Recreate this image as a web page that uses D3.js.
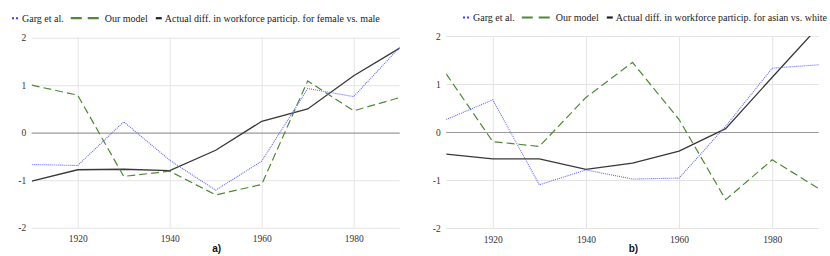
<!DOCTYPE html>
<html>
<head>
<meta charset="utf-8">
<script src="https://cdn.jsdelivr.net/npm/d3@7"></script>
<style>
  body { margin: 0; background: #fff; }
  svg { display: block; }
</style>
</head>
<body>
<svg id="chart" width="830" height="256"></svg>
<script>
const years = [1910, 1920, 1930, 1940, 1950, 1960, 1970, 1980, 1990];
const xTicks = [1920, 1940, 1960, 1980];
const yTicks = [-2, -1, 0, 1, 2];

// panel a) female vs. male
const gargA = [-0.67, -0.69, 0.23, -0.58, -1.21, -0.6, 0.93, 0.76, 1.8];
const modelA = [1.0, 0.79, -0.92, -0.81, -1.31, -1.09, 1.09, 0.46, 0.74];
const actualA = [-1.02, -0.78, -0.77, -0.8, -0.37, 0.24, 0.5, 1.2, 1.78];

// panel b) asian vs. white
const gargB = [0.26, 0.67, -1.1, -0.79, -0.98, -0.96, 0.12, 1.33, 1.4];
const modelB = [1.21, -0.2, -0.3, 0.72, 1.45, 0.26, -1.41, -0.58, -1.18];
const actualB = [-0.46, -0.56, -0.56, -0.78, -0.65, -0.4, 0.07, 1.14, 2.2];

const SERIF = '"Liberation Serif", "Times New Roman", serif';
const svg = d3.select("#chart");

function drawPanel(id, box, garg, model, actual, actualLabel, tag, legendX) {
  const x = d3.scaleLinear().domain([1910, 1990]).range([box.left, box.right]);
  const y = d3.scaleLinear().domain([-2, 2]).range([box.bottom, box.top]);
  const g = svg.append("g");

  // clip so lines past the top get cut like the original
  svg.append("clipPath").attr("id", "clip" + id)
    .append("rect")
    .attr("x", box.left).attr("y", box.top)
    .attr("width", box.right - box.left).attr("height", box.bottom - box.top);

  // vertical grid + year labels
  const xAxis = g.append("g")
    .attr("transform", `translate(0,${box.bottom})`)
    .call(d3.axisBottom(x).tickValues(xTicks).tickFormat(String)
      .tickSize(-(box.bottom - box.top)).tickPadding(8));
  xAxis.select(".domain").remove();
  xAxis.selectAll("line").attr("stroke", "#e4e4e4");
  xAxis.selectAll("text").style("font-family", SERIF).style("font-size", "9.5px").attr("fill", "#333");

  // horizontal grid + value labels
  const yAxis = g.append("g")
    .attr("transform", `translate(${box.left},0)`)
    .call(d3.axisLeft(y).tickValues(yTicks).tickFormat(String)
      .tickSize(-(box.right - box.left)).tickPadding(5.5));
  yAxis.select(".domain").remove();
  yAxis.selectAll("line")
    .attr("stroke", d => d === 0 ? "#9a9a9a" : "#e4e4e4")
    .attr("stroke-width", d => d === 0 ? 1.2 : 1);
  yAxis.selectAll("text").style("font-family", SERIF).style("font-size", "9.5px").attr("fill", "#333");

  const line = d3.line().x((d, i) => x(years[i])).y(d => y(d));
  const lines = g.append("g").attr("clip-path", `url(#clip${id})`);

  lines.append("path").datum(actual)
    .attr("d", line).attr("fill", "none")
    .attr("stroke", "#383838").attr("stroke-width", 1.3);
  lines.append("path").datum(model)
    .attr("d", line).attr("fill", "none")
    .attr("stroke", "#4f8a35").attr("stroke-width", 1.2)
    .attr("stroke-dasharray", "8,4");
  lines.append("path").datum(garg)
    .attr("d", line).attr("fill", "none")
    .attr("stroke", "#6464ff").attr("stroke-width", 1.1)
    .attr("stroke-dasharray", "1,1");

  // legend
  const lg = g.append("g").attr("transform", `translate(${legendX},${box.legendY})`);
  const txt = sel => sel.style("font-family", SERIF).style("font-size", "10px").attr("fill", "#222");
  lg.append("line").attr("x1", 0).attr("x2", 6).attr("y1", -3.5).attr("y2", -3.5)
    .attr("stroke", "#3b3bff").attr("stroke-width", 2).attr("stroke-dasharray", "2,2");
  const t1 = lg.append("text").attr("x", 10).call(txt).text("Garg et al.");
  let cx = 10 + t1.node().getComputedTextLength() + 7;
  lg.append("line").attr("x1", cx).attr("x2", cx + 30).attr("y1", -3.5).attr("y2", -3.5)
    .attr("stroke", "#4f8a35").attr("stroke-width", 2.2).attr("stroke-dasharray", "11,6");
  const t2 = lg.append("text").attr("x", cx + 34).call(txt).text("Our model");
  cx = cx + 34 + t2.node().getComputedTextLength() + 8;
  lg.append("line").attr("x1", cx).attr("x2", cx + 6).attr("y1", -3.5).attr("y2", -3.5)
    .attr("stroke", "#222").attr("stroke-width", 2.2);
  lg.append("text").attr("x", cx + 9).call(txt).text(actualLabel);

  g.append("text")
    .attr("x", (box.left + box.right) / 2 + 1).attr("y", 251.5)
    .attr("text-anchor", "middle")
    .style("font-family", '"Liberation Sans", Arial, sans-serif').style("font-weight", "bold")
    .style("font-size", "10px").attr("fill", "#111")
    .text(tag);
}

drawPanel("A", { left: 31.7, right: 399.7, top: 37.7, bottom: 227.7, legendY: 21.7 },
  gargA, modelA, actualA, "Actual diff. in workforce particip. for female vs. male", "a)", 12);
drawPanel("B", { left: 446.2, right: 818.8, top: 36, bottom: 228, legendY: 21 },
  gargB, modelB, actualB, "Actual diff. in workforce particip. for asian vs. white", "b)", 463);
</script>
</body>
</html>
